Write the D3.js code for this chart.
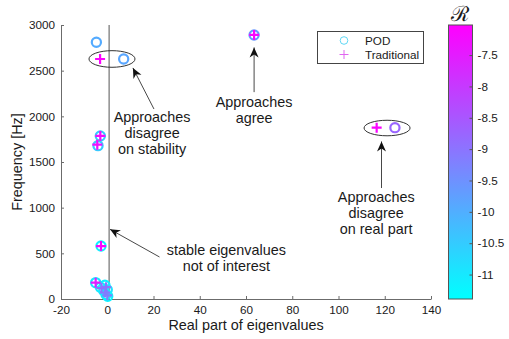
<!DOCTYPE html>
<html><head><meta charset="utf-8">
<script src="https://cdn.jsdelivr.net/npm/d3@7"></script>
<style>body{margin:0;background:#fff} text{font-family:"Liberation Sans",Arial,Helvetica,sans-serif;fill:#1a1a1a}</style>
</head><body><svg id="c" width="509" height="339"></svg>
<script>
// ---- data ----
const podRe   = [-4.7, 7.1, 63.5, 124.4, -3.0, -4.0, -2.7, -5.0, -3.0, -1.0, -1.5, 0.0, -0.5, 0.2];
const podFreq = [2811, 2628, 2891, 1876, 1785, 1679, 580, 179, 130, 150, 90, 100, 50, 30];
const podR    = [-9.95, -9.86, -9.6, -8.75, -10.5, -10.45, -11.15, -11.0, -11.05, -11.1, -11.0, -10.9, -11.1, -11.2];
const tradRe   = [-3.1, 63.5, 116.5, -3.0, -4.3, -2.7, -5.0, -2.5, -0.5, -1.0, 0.0];
const tradFreq = [2628, 2891, 1876, 1785, 1690, 580, 179, 120, 130, 70, 40];
const tradR    = [-7.05, -7.1, -7.1, -7.2, -7.3, -7.1, -7.5, -8.9, -9.0, -9.1, -9.2];
const xTicks = [-20, 0, 20, 40, 60, 80, 100, 120, 140];
const yTicks = [0, 500, 1000, 1500, 2000, 2500, 3000];
const cTicks = [-11, -10.5, -10, -9.5, -9, -8.5, -8, -7.5];
const legendLabels = ["POD", "Traditional"];
const xLabel = "Real part of eigenvalues";
const yLabel = "Frequency [Hz]";
const cLabel = "\u211B";
const stableRe = 0.8;
const annTexts = [
  {lines:["Approaches","disagree","on stability"], x:19.4, f:1938},
  {lines:["Approaches","agree"], x:63.5, f:2102},
  {lines:["Approaches","disagree","on real part"], x:116.3, f:1058},
  {lines:["stable eigenvalues","not of interest"], x:51.5, f:481}
];
const annArrows = [
  {x1:20.2, f1:2080, x2:11.1, f2:2530},
  {x1:63.5, f1:2265, x2:63.5, f2:2755},
  {x1:118.6, f1:1215, x2:118.6, f2:1725},
  {x1:22.6, f1:460, x2:1.2, f2:763}
];
const annEllipses = [
  {x:2.05, f:2628, rx:9.95, ry:91},
  {x:121, f:1872, rx:9.95, ry:85}
];

// ---- scales ----
const svg = d3.select("#c");
const x = d3.scaleLinear().domain([-20, 140]).range([61, 431]);
const y = d3.scaleLinear().domain([0, 3000]).range([299, 25]);
const cs = d3.scaleLinear().domain([-11.39, -7.02]).range([299, 25]);
const cdom = cs.domain();
const col = v => { const t = Math.max(0, Math.min(1, (v - cdom[0]) / (cdom[1] - cdom[0])));
  return d3.rgb(Math.round(255*t), Math.round(255*(1-t)), 255).toString(); };
const fmt = d => String(d);

const axisCol = "#6b6b6b";
// x axis
const gx = svg.append("g").attr("transform", `translate(0,${y(0)})`)
  .call(d3.axisBottom(x).tickValues(xTicks).tickFormat(fmt).tickSizeInner(-3).tickSizeOuter(0).tickPadding(7));
// y axis
const gy = svg.append("g").attr("transform", `translate(${x(-20)},0)`)
  .call(d3.axisLeft(y).tickValues(yTicks).tickFormat(fmt).tickSizeInner(-3).tickSizeOuter(0).tickPadding(6));
[gx, gy].forEach(g => {
  g.select(".domain").attr("stroke", axisCol);
  g.selectAll(".tick line").attr("stroke", axisCol);
  g.selectAll(".tick text").attr("font-size", 11.7).attr("fill", "#1a1a1a")
    .style("font-family", '"Liberation Sans",Arial,sans-serif');
});

// axis labels
svg.append("text").attr("x", (x(-20)+x(140))/2).attr("y", 330).attr("text-anchor", "middle")
  .attr("font-size", 14.4).text(xLabel);
svg.append("text").attr("transform", `translate(22,${(y(0)+y(3000))/2}) rotate(-90)`)
  .attr("text-anchor", "middle").attr("font-size", 14.4).text(yLabel);

// stable line
svg.append("line").attr("x1", x(stableRe)).attr("x2", x(stableRe)).attr("y1", y(3000)).attr("y2", y(0))
  .attr("stroke", "#555").attr("stroke-width", 1);

// POD circles
svg.append("g").selectAll("circle").data(podRe.map((d,i)=>({re:d, f:podFreq[i], r:podR[i]})))
  .join("circle").attr("cx", d=>x(d.re)).attr("cy", d=>y(d.f)).attr("r", 4.6)
  .attr("fill", "none").attr("stroke", d=>col(d.r)).attr("stroke-width", 2.2);
// Traditional pluses
svg.append("g").selectAll("path").data(tradRe.map((d,i)=>({re:d, f:tradFreq[i], r:tradR[i]})))
  .join("path").attr("d", d=>{const cx=x(d.re), cy=y(d.f), s=5; return `M${cx-s},${cy}H${cx+s}M${cx},${cy-s}V${cy+s}`;})
  .attr("fill", "none").attr("stroke", d=>col(d.r)).attr("stroke-width", 2.2);

// annotation ellipses
svg.append("g").selectAll("ellipse").data(annEllipses).join("ellipse")
  .attr("cx", d=>x(d.x)).attr("cy", d=>y(d.f))
  .attr("rx", d=>x(d.x+d.rx)-x(d.x)).attr("ry", d=>y(d.f)-y(d.f+d.ry))
  .attr("fill", "none").attr("stroke", "#333").attr("stroke-width", 1);

// arrows
const ag = svg.append("g");
annArrows.forEach(a => {
  const x1=x(a.x1), y1=y(a.f1), x2=x(a.x2), y2=y(a.f2);
  const ang = Math.atan2(y2-y1, x2-x1)*180/Math.PI;
  ag.append("line").attr("x1", x1).attr("y1", y1).attr("x2", x2).attr("y2", y2)
    .attr("stroke", "#333").attr("stroke-width", 0.9);
  ag.append("path").attr("d", "M0,0L-10,-4.5L-7,0L-10,4.5Z").attr("fill", "#111")
    .attr("transform", `translate(${x2},${y2}) rotate(${ang})`);
});

// annotation texts
annTexts.forEach(t => {
  const tx = svg.append("text").attr("text-anchor", "middle").attr("font-size", 14.4);
  t.lines.forEach((l, i) => tx.append("tspan").attr("x", x(t.x)).attr("y", y(t.f) + i*16).text(l));
});

// legend
const lg = svg.append("g");
lg.append("rect").attr("x", 317.5).attr("y", 31.5).attr("width", 106).attr("height", 32)
  .attr("fill", "#fff").attr("stroke", "#444").attr("stroke-width", 1);
lg.append("circle").attr("cx", 344).attr("cy", 40.5).attr("r", 3.8).attr("fill", "none")
  .attr("stroke", "#5fd8f5").attr("stroke-width", 1);
lg.append("path").attr("d", "M339.5,54.5H348.5M344,50V59").attr("stroke", "#e066f0").attr("stroke-width", 1).attr("fill","none");
lg.selectAll("text").data(legendLabels).join("text").attr("x", 365).attr("y", (d,i)=>44.5 + i*14.3)
  .attr("font-size", 11.7).text(d=>d);

// colorbar
const defs = svg.append("defs");
const grad = defs.append("linearGradient").attr("id", "cg").attr("x1", 0).attr("x2", 0).attr("y1", 1).attr("y2", 0);
d3.range(0, 1.0001, 0.1).forEach(t => grad.append("stop").attr("offset", t)
  .attr("stop-color", col(cdom[0] + t*(cdom[1]-cdom[0]))));
const cbx = 448.5, cbw = 24;
svg.append("rect").attr("x", cbx).attr("y", cs(cdom[1])).attr("width", cbw)
  .attr("height", cs(cdom[0]) - cs(cdom[1])).attr("fill", "url(#cg)").attr("stroke", "#555").attr("stroke-width", 1);
const gc = svg.append("g").attr("transform", `translate(${cbx+cbw},0)`)
  .call(d3.axisRight(cs).tickValues(cTicks).tickFormat(fmt).tickSizeInner(-3).tickSizeOuter(0).tickPadding(5));
gc.select(".domain").remove();
gc.selectAll(".tick line").attr("stroke", "#555");
gc.selectAll(".tick text").attr("font-size", 11.7).attr("fill", "#1a1a1a")
  .style("font-family", '"Liberation Sans",Arial,sans-serif');
svg.append("text").attr("x", cbx + cbw/2 - 1).attr("y", 21).attr("text-anchor", "middle")
  .attr("font-size", 21).style("font-family", '"DejaVu Serif",serif').text(cLabel);
</script></body></html>
